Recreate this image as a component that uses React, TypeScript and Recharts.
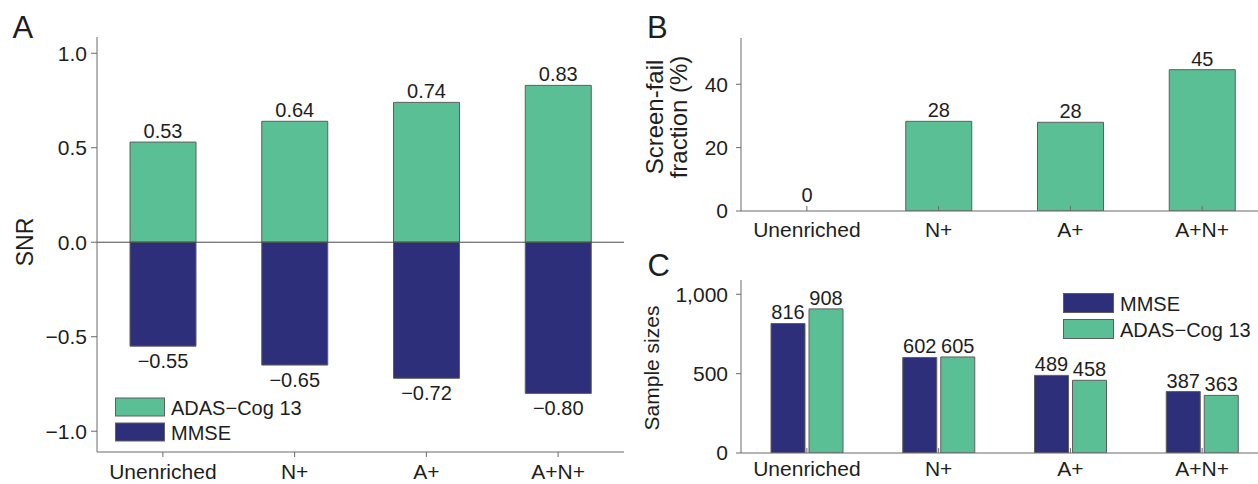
import React from "react";
import { BarChart, Bar, XAxis, YAxis, ReferenceLine, LabelList, Cell } from "recharts";

// categories shared by all three panels
const CATEGORIES = ["Unenriched", "N+", "A+", "A+N+"];

// panel A: signal-to-noise ratio
const SNR_ADAS = [0.53, 0.64, 0.74, 0.83];
const SNR_MMSE = [-0.55, -0.65, -0.72, -0.8];
const SNR_TICKS = [-1, -0.5, 0, 0.5, 1];

// panel B: screen-fail fraction (%)
const SCREEN_FAIL = [0, 28.3, 28.0, 44.6];
const SCREEN_FAIL_TICKS = [0, 20, 40];

// panel C: sample sizes
const SAMPLE_MMSE = [816, 602, 489, 387];
const SAMPLE_ADAS = [908, 605, 458, 363];
const SAMPLE_TICKS = [0, 500, 1000];

const GREEN = "#5bbf96";
const NAVY = "#2d2f7b";
const EDGE = "#5e5e5e";
const AXIS = "#6a6a6a";
const TEXT = "#1e1e1e";
const FONT = "'Liberation Sans', Arial, Helvetica, sans-serif";

const snrData = CATEGORIES.map((c, i) => ({ name: c, adas: SNR_ADAS[i], mmse: SNR_MMSE[i] }));
const failData = CATEGORIES.map((c, i) => ({ name: c, fail: SCREEN_FAIL[i] }));
const sampleData = CATEGORIES.map((c, i) => ({ name: c, mmse: SAMPLE_MMSE[i], adas: SAMPLE_ADAS[i] }));

function fmtSigned(v: number, digits: number): string {
  const s = Math.abs(v).toFixed(digits);
  return v < 0 ? `\u2212${s}` : s;
}

function fmtThousands(v: number): string {
  return v >= 1000 ? `${Math.floor(v / 1000)},${String(v % 1000).padStart(3, "0")}` : String(v);
}

// value label placed just past the end of the bar
function valueLabel(fmt: (v: number) => string) {
  return (props: any) => {
    const x = Number(props.x);
    const y = Number(props.y);
    const w = Number(props.width);
    const h = Number(props.height);
    let raw = props.value;
    if (Array.isArray(raw)) raw = raw[raw.length - 1];
    const v = Number(raw);
    const top = Math.min(y, y + h);
    const bottom = Math.max(y, y + h);
    const ty = v > 0 ? top - 4 : v < 0 ? bottom + 22 : top - 8;
    return (
      <text x={x + w / 2} y={ty} textAnchor="middle" fontSize={20} fill={TEXT} fontFamily={FONT}>
        {fmt(v)}
      </text>
    );
  };
}

const tickStyle = { fontSize: 21, fill: TEXT, fontFamily: FONT };

export default function App() {
  return (
    <div
      style={{
        position: "absolute",
        left: 0,
        top: 0,
        width: 1258,
        height: 484,
        overflow: "hidden",
        background: "#fff",
        fontFamily: FONT,
      }}
    >
      {/* A */}
      <div style={{ position: "absolute", left: 0, top: 0 }}>
        <BarChart
          width={640}
          height={484}
          data={snrData}
          stackOffset="sign"
          margin={{ top: 37, right: 16, bottom: 0, left: 37 }}
        >
          <XAxis
            dataKey="name"
            height={32}
            interval={0}
            tick={tickStyle}
            tickSize={5}
            tickMargin={7}
            axisLine={{ stroke: AXIS }}
            tickLine={{ stroke: AXIS }}
          />
          <YAxis
            width={60}
            domain={[-1.11, 1.086]}
            allowDataOverflow
            ticks={SNR_TICKS}
            tickFormatter={(v: number) => fmtSigned(v, 1)}
            tick={tickStyle}
            tickSize={6}
            tickMargin={4}
            axisLine={{ stroke: AXIS }}
            tickLine={{ stroke: AXIS }}
          />
          <Bar dataKey="adas" stackId="s" barSize={66} fill={GREEN} stroke={EDGE} strokeWidth={1} isAnimationActive={false}>
            <LabelList dataKey="adas" content={valueLabel((v) => fmtSigned(v, 2))} />
          </Bar>
          <Bar dataKey="mmse" stackId="s" barSize={66} fill={NAVY} stroke={EDGE} strokeWidth={1} isAnimationActive={false}>
            <LabelList dataKey="mmse" content={valueLabel((v) => fmtSigned(v, 2))} />
          </Bar>
          <ReferenceLine y={0} stroke="#4a4a4a" strokeWidth={1} />
        </BarChart>
      </div>

      {/* B */}
      <div style={{ position: "absolute", left: 620, top: 0 }}>
        <BarChart width={648} height={240} data={failData} margin={{ top: 38, right: 0, bottom: 0, left: 61 }}>
          <XAxis
            dataKey="name"
            height={29}
            interval={0}
            tick={tickStyle}
            tickSize={-5}
            tickMargin={16}
            axisLine={{ stroke: AXIS }}
            tickLine={{ stroke: AXIS }}
          />
          <YAxis
            width={60}
            domain={[0, 54.6]}
            allowDataOverflow
            ticks={SCREEN_FAIL_TICKS}
            tick={tickStyle}
            tickSize={5}
            tickMargin={8}
            axisLine={{ stroke: AXIS }}
            tickLine={{ stroke: AXIS }}
          />
          <Bar dataKey="fail" barSize={66} minPointSize={1} fill={GREEN} stroke={EDGE} strokeWidth={1} isAnimationActive={false}>
            {SCREEN_FAIL.map((v, i) => (
              <Cell key={i} fill={v === 0 ? "none" : GREEN} stroke={v === 0 ? "none" : EDGE} />
            ))}
            <LabelList dataKey="fail" content={valueLabel((v) => String(Math.round(v)))} />
          </Bar>
        </BarChart>
      </div>

      {/* C */}
      <div style={{ position: "absolute", left: 620, top: 240 }}>
        <BarChart
          width={648}
          height={244}
          data={sampleData}
          barGap={4}
          margin={{ top: 40, right: 0, bottom: 0, left: 61 }}
        >
          <XAxis
            dataKey="name"
            height={31}
            interval={0}
            tick={tickStyle}
            tickSize={-5}
            tickMargin={13}
            axisLine={{ stroke: AXIS }}
            tickLine={{ stroke: AXIS }}
          />
          <YAxis
            width={60}
            domain={[0, 1090]}
            allowDataOverflow
            ticks={SAMPLE_TICKS}
            tickFormatter={fmtThousands}
            tick={tickStyle}
            tickSize={5}
            tickMargin={8}
            axisLine={{ stroke: AXIS }}
            tickLine={{ stroke: AXIS }}
          />
          <Bar dataKey="mmse" barSize={34} fill={NAVY} stroke={EDGE} strokeWidth={1} isAnimationActive={false}>
            <LabelList dataKey="mmse" content={valueLabel(String)} />
          </Bar>
          <Bar dataKey="adas" barSize={34} fill={GREEN} stroke={EDGE} strokeWidth={1} isAnimationActive={false}>
            <LabelList dataKey="adas" content={valueLabel(String)} />
          </Bar>
        </BarChart>
      </div>

      {/* panel letters, axis titles, legends */}
      <svg
        width={1258}
        height={484}
        style={{ position: "absolute", left: 0, top: 0, pointerEvents: "none" }}
        fontFamily={FONT}
        fill={TEXT}
      >
        <text x={12.5} y={37.5} fontSize={31}>A</text>
        <text x={647} y={37.5} fontSize={31}>B</text>
        <text x={647.5} y={275.5} fontSize={31}>C</text>

        <text transform="translate(33,242) rotate(-90)" textAnchor="middle" fontSize={23}>SNR</text>
        <text transform="translate(663,117) rotate(-90)" textAnchor="middle" fontSize={24}>Screen-fail</text>
        <text transform="translate(687,117) rotate(-90)" textAnchor="middle" fontSize={24}>fraction (%)</text>
        <text transform="translate(659,368) rotate(-90)" textAnchor="middle" fontSize={21}>Sample sizes</text>

        {/* legend A */}
        <rect x={115.5} y={398} width={49} height={18} fill={GREEN} stroke={EDGE} />
        <rect x={115.5} y={423} width={49} height={18} fill={NAVY} stroke={EDGE} />
        <text x={171} y={414.5} fontSize={20}>ADAS{"\u2212"}Cog 13</text>
        <text x={171} y={440} fontSize={20}>MMSE</text>

        {/* legend C */}
        <rect x={1063.5} y={293.5} width={50} height={19} fill={NAVY} stroke={EDGE} />
        <rect x={1063.5} y={319.5} width={50} height={19} fill={GREEN} stroke={EDGE} />
        <text x={1120} y={310.5} fontSize={20}>MMSE</text>
        <text x={1120} y={336.5} fontSize={20}>ADAS{"\u2212"}Cog 13</text>
      </svg>
    </div>
  );
}
